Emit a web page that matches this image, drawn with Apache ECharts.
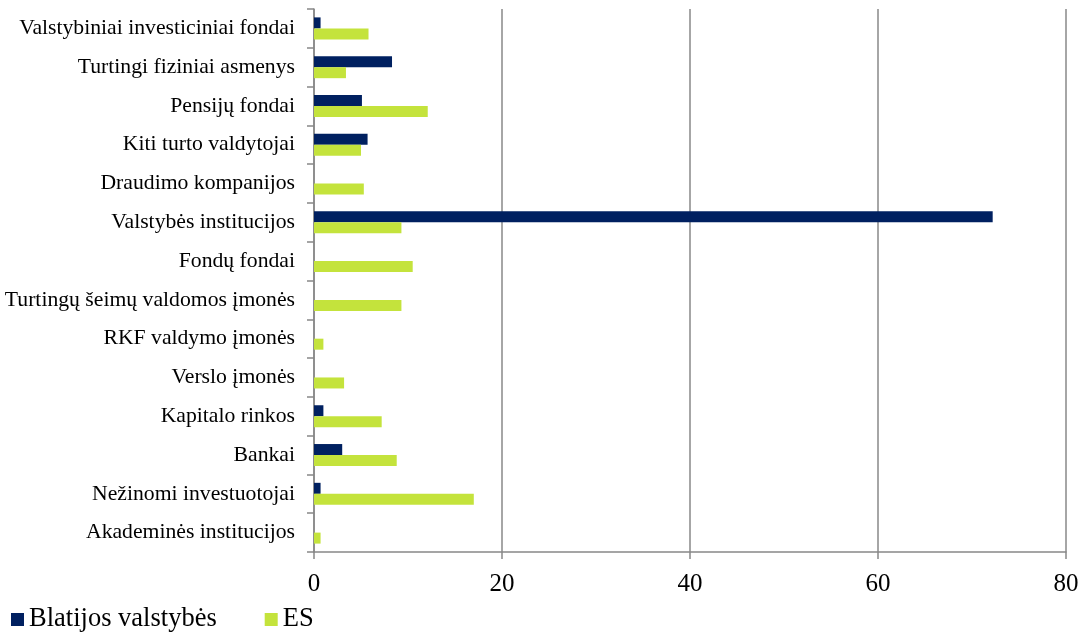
<!DOCTYPE html>
<html>
<head>
<meta charset="utf-8">
<script src="https://cdn.jsdelivr.net/npm/echarts@6/dist/echarts.min.js"></script>
<style>
html,body{margin:0;padding:0;background:#fff;}
#chart{width:1082px;height:632px;}
</style>
</head>
<body>
<div id="chart"></div>
<script>
const categories = [
  "Valstybiniai investiciniai fondai",
  "Turtingi fiziniai asmenys",
  "Pensijų fondai",
  "Kiti turto valdytojai",
  "Draudimo kompanijos",
  "Valstybės institucijos",
  "Fondų fondai",
  "Turtingų šeimų valdomos įmonės",
  "RKF valdymo įmonės",
  "Verslo įmonės",
  "Kapitalo rinkos",
  "Bankai",
  "Nežinomi investuotojai",
  "Akademinės institucijos"
];
const baltic = [0.7, 8.3, 5.1, 5.7, null, 72.2, null, null, null, null, 1.0, 3.0, 0.7, null];
const es = [5.8, 3.4, 12.1, 5.0, 5.3, 9.3, 10.5, 9.3, 1.0, 3.2, 7.2, 8.8, 17.0, 0.7];
const seriesNames = ["Blatijos valstybės", "ES"];
const xTicks = {min: 0, max: 80, interval: 20};

const chart = echarts.init(document.getElementById('chart'), null, {renderer: 'canvas'});
const font = "'Liberation Serif', 'Times New Roman', serif";
const axisGrey = '#888888';
chart.setOption({
  animation: false,
  textStyle: {fontFamily: font},
  grid: {left: 314, right: 16, top: 9, bottom: 80, containLabel: false},
  legend: {
    left: 6, top: 601, padding: 5,
    itemWidth: 13, itemHeight: 13, itemGap: 48,
    icon: 'rect',
    textStyle: {fontFamily: font, fontSize: 26.5, color: '#000'},
    data: seriesNames
  },
  xAxis: {
    type: 'value',
    min: xTicks.min, max: xTicks.max, interval: xTicks.interval,
    axisLine: {show: true, lineStyle: {color: axisGrey, width: 1.5}},
    axisTick: {show: true, length: 7, lineStyle: {color: axisGrey, width: 1.5}},
    splitLine: {show: true, lineStyle: {color: axisGrey, width: 1.5}},
    axisLabel: {fontFamily: font, fontSize: 25, color: '#000', margin: 20}
  },
  yAxis: {
    type: 'category',
    data: categories,
    inverse: true,
    axisLine: {show: true, lineStyle: {color: axisGrey, width: 1.5}},
    axisTick: {show: true, length: 7, alignWithLabel: false, lineStyle: {color: axisGrey, width: 1.5}},
    axisLabel: {fontFamily: font, fontSize: 21.7, color: '#000', margin: 19}
  },
  series: [
    {name: seriesNames[0], type: 'bar', data: baltic, barWidth: 11, barGap: '0%',
     itemStyle: {color: '#002060'}},
    {name: seriesNames[1], type: 'bar', data: es, barWidth: 11, barGap: '0%',
     itemStyle: {color: '#c4e33c'}}
  ]
});
</script>
</body>
</html>
